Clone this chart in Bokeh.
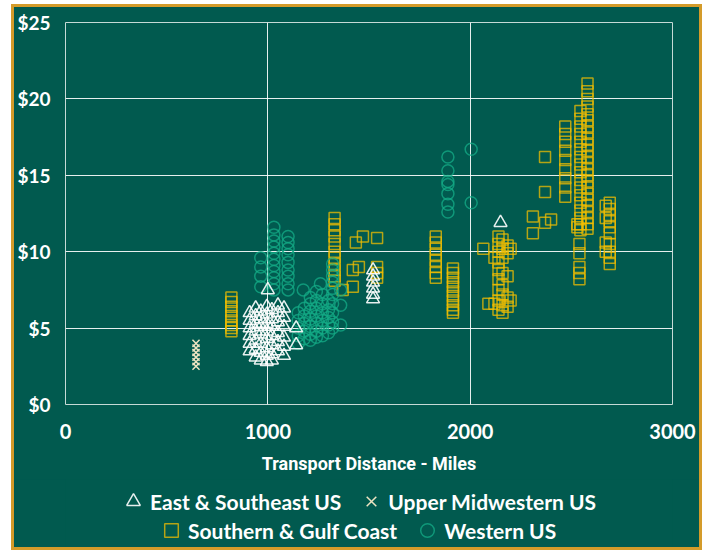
from bokeh.plotting import figure
from bokeh.layouts import column
from bokeh.models import Legend, LegendItem, FixedTicker, NumeralTickFormatter, Range1d
from bokeh.embed import file_html
from bokeh.resources import INLINE

# ---------------- data ----------------
east_miles = [910] * 6 + [940] * 7 + [965] * 7 + [995] * 8 + [1020] * 7 + [1050] * 6 + [1080] * 6 \
    + [1140] * 2 + [1000] + [1520] * 6 + [2150]
east_cost = [6.0, 5.5, 5.0, 4.5, 4.0, 3.5,
             6.3, 5.8, 5.3, 4.8, 4.2, 3.6, 3.1,
             6.1, 5.6, 5.1, 4.6, 4.0, 3.4, 2.9,
             6.4, 5.9, 5.3, 4.8, 4.3, 3.7, 3.2, 2.8,
             6.2, 5.6, 5.1, 4.5, 3.9, 3.3, 2.9,
             6.5, 6.0, 5.4, 4.7, 4.1, 3.5,
             6.3, 5.7, 5.1, 4.4, 3.8, 3.2,
             5.0, 3.9,
             7.5,
             8.8, 8.4, 8.0, 7.6, 7.2, 6.9,
             11.9]

upper_miles = [645, 645, 645, 645, 645, 645]
upper_cost = [4.0, 3.7, 3.4, 3.1, 2.8, 2.5]

south_miles = [820] * 9 + [1330] * 11 + [1370, 1420, 1420, 1435, 1450, 1470] + [1540] * 4 \
    + [1830] * 8 + [1915] * 11 + [2065, 2090, 2120, 2120] + [2140] * 9 + [2160] * 8 + [2185] * 5 + [2200] * 2 \
    + [2310, 2310, 2370, 2370, 2370, 2400] + [2470] * 9 + [2530, 2530] \
    + [2545] * 17 + [2580] * 24 + [2540] * 5 + [2670] * 4 + [2690] * 10
south_cost = [7.0, 6.7, 6.4, 6.1, 5.8, 5.5, 5.2, 5.0, 4.8,
              12.2, 11.8, 11.4, 11.0, 10.5, 10.0, 9.6, 9.2, 8.8, 8.4, 8.1,
              7.5, 7.7, 8.8, 10.6, 9.0, 11.0,
              10.9, 9.0, 8.6, 8.3,
              11.0, 10.6, 10.2, 9.8, 9.4, 9.0, 8.6, 8.3,
              8.9, 8.6, 8.3, 8.0, 7.7, 7.4, 7.1, 6.8, 6.5, 6.2, 6.0,
              10.2, 6.6, 6.6, 9.6,
              11.0, 10.5, 10.0, 9.3, 8.8, 8.2, 7.5, 6.8, 6.2,
              10.8, 10.2, 9.6, 8.6, 7.8, 7.2, 6.5, 6.0,
              10.4, 9.9, 8.4, 7.0, 6.4,
              10.2, 6.8,
              12.3, 11.2, 16.2, 13.9, 11.9, 12.1,
              18.2, 17.7, 17.2, 16.6, 16.0, 15.4, 14.8, 14.2, 13.6,
              11.6, 11.8,
              19.2, 18.7, 18.2, 17.7, 17.2, 16.7, 16.2, 15.7, 15.2, 14.7, 14.2, 13.7, 13.2, 12.7, 12.2, 11.8, 11.4,
              21.0, 20.5, 20.0, 19.5, 19.0, 18.6, 18.2, 17.8, 17.4, 17.0, 16.6, 16.2, 15.8, 15.4, 15.0, 14.6,
              14.2, 13.8, 13.4, 13.0, 12.6, 12.2, 11.8, 11.5,
              10.5, 9.9, 9.0, 8.6, 8.2,
              13.0, 12.2, 10.6, 10.0,
              13.2, 12.8, 12.4, 12.0, 11.6, 11.2, 10.5, 10.0, 9.6, 9.2]

west_miles = [965] * 4 + [1030] * 11 + [1100] * 9 + [1150] * 5 + [1180] * 5 + [1210] * 7 + [1240] * 7 \
    + [1270] * 6 + [1300] * 5 + [1320] * 10 + [1360] * 3 + [1175, 1260] + [1890] * 7 + [2005] * 2
west_cost = [9.6, 9.0, 8.4, 7.7,
             11.6, 11.1, 10.7, 10.3, 9.9, 9.5, 9.1, 8.7, 8.3, 7.9, 7.5,
             11.0, 10.6, 10.2, 9.8, 9.3, 8.8, 8.4, 7.9, 7.5,
             6.0, 5.5, 5.0, 4.5, 4.0,
             6.3, 5.8, 5.3, 4.8, 4.3,
             7.0, 6.6, 6.1, 5.6, 5.1, 4.6, 4.2,
             7.4, 6.8, 6.3, 5.8, 5.3, 4.8, 4.4,
             7.2, 6.6, 6.0, 5.5, 5.0, 4.5,
             6.8, 6.2, 5.7, 5.2, 4.7,
             9.2, 8.8, 8.4, 8.0, 7.6, 7.2, 6.6, 6.0, 5.4, 5.0,
             7.5, 6.5, 5.2,
             7.5, 7.9,
             16.2, 15.3, 14.6, 14.4, 13.8, 13.1, 12.6,
             16.7, 13.2]

x_ticks = [0, 1000, 2000, 3000]
y_ticks = [0, 5, 10, 15, 20, 25]
x_label = "Transport Distance - Miles"
series_names = ["East & Southeast US", "Upper Midwestern US", "Southern & Gulf Coast", "Western US"]

# ---------------- style ----------------
BG = "#015A4F"
GOLD = "#D49B2A"
SQUARE = "#F2BE00"
CIRCLE = "#14AC87"
CROSS = "#EEE4C2"
FONT = "Lato"

STYLE = {
    "south": dict(marker="square", size=11, fill_color=None, line_color=SQUARE, line_alpha=0.75, line_width=1.5),
    "west": dict(marker="circle", size=12, fill_color=None, line_color=CIRCLE, line_alpha=0.75, line_width=1.5),
    "east": dict(marker="triangle", size=13, fill_color=None, line_color="white", line_alpha=0.9, line_width=1.5),
    "upper": dict(marker="x", size=10, line_color=CROSS, line_width=1.5),
}

p = figure(width=685, height=472, x_range=Range1d(0, 3000), y_range=Range1d(0, 25),
           output_backend="svg", toolbar_location=None,
           min_border_left=51, min_border_right=27, min_border_top=15, min_border_bottom=75)
p.background_fill_color = BG
p.border_fill_color = BG
p.outline_line_color = "#C6DAD6"
p.outline_line_width = 1

p.scatter(south_miles, south_cost, **STYLE["south"])
p.scatter(west_miles, west_cost, **STYLE["west"])
p.scatter(east_miles, east_cost, **STYLE["east"])
p.scatter(upper_miles, upper_cost, **STYLE["upper"])

for ax in p.xaxis:
    ax.ticker = FixedTicker(ticks=x_ticks)
for ax in p.yaxis:
    ax.ticker = FixedTicker(ticks=y_ticks)
    ax.formatter = NumeralTickFormatter(format="$0")

for ax in (p.xaxis[0], p.yaxis[0]):
    ax.axis_line_color = None
    ax.major_tick_line_color = None
    ax.minor_tick_line_color = None
    ax.major_label_text_color = "white"
    ax.major_label_text_font = FONT
    ax.major_label_text_font_style = "bold"

p.xaxis.major_label_text_font_size = "20px"
p.yaxis.major_label_text_font_size = "19px"
p.xaxis.major_label_standoff = 13
p.yaxis.major_label_standoff = 9
p.xaxis.axis_label = x_label
p.xaxis.axis_label_text_font = "Roboto"
p.xaxis.axis_label_text_font_style = "bold"
p.xaxis.axis_label_text_font_size = "18px"
p.xaxis.axis_label_text_color = "white"
p.xaxis.axis_label_standoff = 11

p.grid.grid_line_color = "white"
p.grid.grid_line_alpha = 0.9
p.grid.grid_line_width = 1
p.xgrid.ticker = FixedTicker(ticks=x_ticks)
p.ygrid.ticker = FixedTicker(ticks=y_ticks)

# ---------------- legend strip (its y range lies above all data, so only the legend shows) ----------------
q = figure(width=685, height=68, x_range=Range1d(0, 3000), y_range=Range1d(100, 168),
           output_backend="svg", toolbar_location=None, min_border=0)
q.background_fill_color = BG
q.border_fill_color = BG
q.outline_line_color = None
q.axis.visible = False
q.grid.visible = False

k_e = q.scatter(east_miles, east_cost, **STYLE["east"])
k_u = q.scatter(upper_miles, upper_cost, **STYLE["upper"])
k_s = q.scatter(south_miles, south_cost, **STYLE["south"])
k_w = q.scatter(west_miles, west_cost, **STYLE["west"])


def make_legend(items, loc):
    leg = Legend(items=items, orientation="horizontal", location=loc)
    leg.background_fill_alpha = 0
    leg.border_line_alpha = 0
    leg.label_text_color = "white"
    leg.label_text_font = FONT
    leg.label_text_font_style = "bold"
    leg.label_text_font_size = "21px"
    leg.glyph_width = 34
    leg.glyph_height = 34
    leg.label_standoff = 0
    leg.spacing = 13
    leg.padding = 0
    leg.margin = 0
    return leg


q.add_layout(make_legend([LegendItem(label=series_names[0], renderers=[k_e]),
                          LegendItem(label=series_names[1], renderers=[k_u])], (51, 29)))
q.add_layout(make_legend([LegendItem(label=series_names[2], renderers=[k_s]),
                          LegendItem(label=series_names[3], renderers=[k_w])], (89, 0)))

page = column(p, q, spacing=0,
              styles={"border": "3px solid " + GOLD, "margin-left": "11px", "margin-top": "4px",
                      "background-color": BG})

open("out.html", "w").write(file_html(page, INLINE))
